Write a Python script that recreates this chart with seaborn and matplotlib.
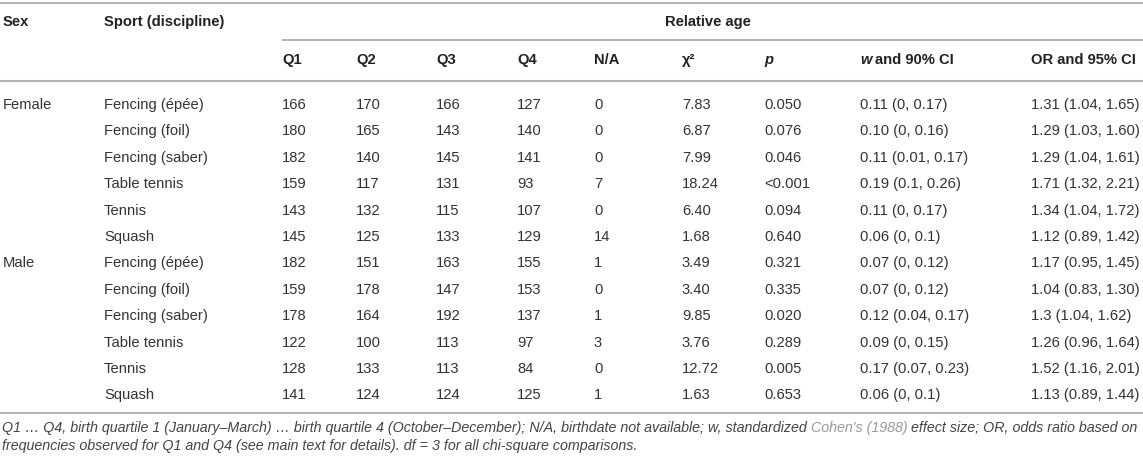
import matplotlib
matplotlib.use("Agg")
import matplotlib.pyplot as plt
import seaborn as sns

# table content
sexes = ["Female", "", "", "", "", "", "Male", "", "", "", "", ""]
sports = ["Fencing (épée)", "Fencing (foil)", "Fencing (saber)", "Table tennis", "Tennis", "Squash",
          "Fencing (épée)", "Fencing (foil)", "Fencing (saber)", "Table tennis", "Tennis", "Squash"]
q1 = [166, 180, 182, 159, 143, 145, 182, 159, 178, 122, 128, 141]
q2 = [170, 165, 140, 117, 132, 125, 151, 178, 164, 100, 133, 124]
q3 = [166, 143, 145, 131, 115, 133, 163, 147, 192, 113, 113, 124]
q4 = [127, 140, 141, 93, 107, 129, 155, 153, 137, 97, 84, 125]
n_a = [0, 0, 0, 7, 0, 14, 1, 0, 1, 3, 0, 1]
chi2 = ["7.83", "6.87", "7.99", "18.24", "6.40", "1.68", "3.49", "3.40", "9.85", "3.76", "12.72", "1.63"]
p_vals = ["0.050", "0.076", "0.046", "<0.001", "0.094", "0.640", "0.321", "0.335", "0.020", "0.289", "0.005", "0.653"]
w_ci = ["0.11 (0, 0.17)", "0.10 (0, 0.16)", "0.11 (0.01, 0.17)", "0.19 (0.1, 0.26)", "0.11 (0, 0.17)", "0.06 (0, 0.1)",
        "0.07 (0, 0.12)", "0.07 (0, 0.12)", "0.12 (0.04, 0.17)", "0.09 (0, 0.15)", "0.17 (0.07, 0.23)", "0.06 (0, 0.1)"]
or_ci = ["1.31 (1.04, 1.65)", "1.29 (1.03, 1.60)", "1.29 (1.04, 1.61)", "1.71 (1.32, 2.21)", "1.34 (1.04, 1.72)",
         "1.12 (0.89, 1.42)", "1.17 (0.95, 1.45)", "1.04 (0.83, 1.30)", "1.3 (1.04, 1.62)", "1.26 (0.96, 1.64)",
         "1.52 (1.16, 2.01)", "1.13 (0.89, 1.44)"]
sub_headers = ["Q1", "Q2", "Q3", "Q4", "N/A", "χ²", "p", "w and 90% CI", "OR and 95% CI"]

note1 = [("Q1 … Q4, birth quartile 1 (January–March) … birth quartile 4 (October–December); N/A, birthdate not available; w, standardized ", "#444444"),
         ("Cohen's (1988)", "#999999"),
         (" effect size; OR, odds ratio based on", "#444444")]
note2 = "frequencies observed for Q1 and Q4 (see main text for details). df = 3 for all chi-square comparisons."

sns.set_theme(style="white")
plt.rcParams["font.family"] = ["Liberation Sans", "DejaVu Sans"]

W, H = 1143, 463
fig = plt.figure(figsize=(W / 100, H / 100), dpi=100)
ax = fig.add_axes([0, 0, 1, 1])
ax.set_xlim(0, W)
ax.set_ylim(H, 0)
ax.axis("off")

fs = 10.6
body = "#333333"
head = "#222222"
rule = "#b4b4b4"

col_x = [3, 104, 282, 356, 436, 517, 594, 682, 764, 860, 1031]
row0, dy = 105, 26.4

# rules
ax.plot([0, W], [3, 3], color=rule, lw=1.5, solid_capstyle="butt")
ax.plot([col_x[2], W], [40, 40], color=rule, lw=1.5, solid_capstyle="butt")
ax.plot([0, W], [81, 81], color=rule, lw=1.5, solid_capstyle="butt")
ax.plot([0, W], [413, 413], color=rule, lw=1.5, solid_capstyle="butt")

# header rows
hkw = dict(fontsize=fs, fontweight="bold", color=head, va="center", ha="left")
ax.text(col_x[0], 22, "Sex", **hkw)
ax.text(col_x[1], 22, "Sport (discipline)", **hkw)
ax.text(665, 22, "Relative age", **hkw)

renderer = fig.canvas.get_renderer()


def px_width(t):
    bb = t.get_window_extent(renderer=renderer)
    return bb.width


for i, h in enumerate(sub_headers):
    x = col_x[i + 2]
    if h == "p":
        ax.text(x, 60, "p", fontstyle="italic", **hkw)
    elif h.startswith("w "):
        t = ax.text(x, 60, "w", fontstyle="italic", **hkw)
        ax.text(x + px_width(t) + fs * 0.3, 60, h[2:], **hkw)
    else:
        ax.text(x, 60, h, **hkw)

# body rows
bkw = dict(fontsize=fs, color=body, va="center", ha="left")
columns = [sexes, sports, q1, q2, q3, q4, n_a, chi2, p_vals, w_ci, or_ci]
for r in range(len(sports)):
    y = row0 + r * dy
    for c, col in enumerate(columns):
        ax.text(col_x[c], y, str(col[r]), **bkw)

# footnote
nfs = 10.3
nkw = dict(fontsize=nfs, fontstyle="italic", va="center", ha="left")
x = 2
for s, colr in note1:
    ax.text(x, 428, s, color=colr, **nkw)
    # advance by measuring with a guard character to keep trailing spaces
    t1 = ax.text(0, -100, s + "|", **nkw)
    t2 = ax.text(0, -100, "|", **nkw)
    x += px_width(t1) - px_width(t2)
    t1.remove()
    t2.remove()
ax.text(2, 446, note2, color="#444444", **nkw)

fig.savefig("out.png", dpi=100)
